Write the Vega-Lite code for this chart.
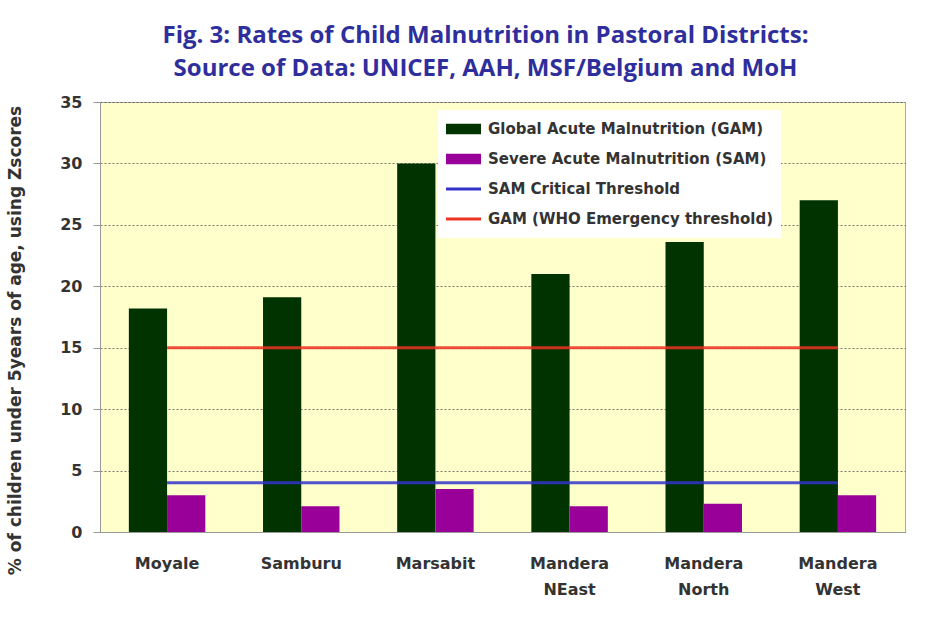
{
  "$schema": "https://vega.github.io/schema/vega-lite/v6.json",
  "width": 805,
  "height": 430,
  "autosize": {"type": "none"},
  "padding": {"left": 100, "top": 102, "right": 33, "bottom": 100},
  "background": "white",
  "title": {
    "text": ["Fig. 3: Rates of Child Malnutrition in Pastoral Districts:", "Source of Data: UNICEF, AAH, MSF/Belgium and MoH"],
    "font": "Open Sans",
    "fontSize": 24,
    "fontWeight": "bold",
    "color": "#2e2e9c",
    "anchor": "middle",
    "frame": "group",
    "dx": -17,
    "offset": 13,
    "lineHeight": 33
  },
  "data": {
    "values": [
      {"district": "Moyale", "series": "Global Acute Malnutrition (GAM)", "kind": "bar", "value": 18.2},
      {"district": "Moyale", "series": "Severe Acute Malnutrition (SAM)", "kind": "bar", "value": 3.0},
      {"district": "Samburu", "series": "Global Acute Malnutrition (GAM)", "kind": "bar", "value": 19.1},
      {"district": "Samburu", "series": "Severe Acute Malnutrition (SAM)", "kind": "bar", "value": 2.1},
      {"district": "Marsabit", "series": "Global Acute Malnutrition (GAM)", "kind": "bar", "value": 30.0},
      {"district": "Marsabit", "series": "Severe Acute Malnutrition (SAM)", "kind": "bar", "value": 3.5},
      {"district": "Mandera NEast", "series": "Global Acute Malnutrition (GAM)", "kind": "bar", "value": 21.0},
      {"district": "Mandera NEast", "series": "Severe Acute Malnutrition (SAM)", "kind": "bar", "value": 2.1},
      {"district": "Mandera North", "series": "Global Acute Malnutrition (GAM)", "kind": "bar", "value": 23.6},
      {"district": "Mandera North", "series": "Severe Acute Malnutrition (SAM)", "kind": "bar", "value": 2.3},
      {"district": "Mandera West", "series": "Global Acute Malnutrition (GAM)", "kind": "bar", "value": 27.0},
      {"district": "Mandera West", "series": "Severe Acute Malnutrition (SAM)", "kind": "bar", "value": 3.0},
      {"district": "Moyale", "series": "SAM Critical Threshold", "kind": "line", "value": 4},
      {"district": "Samburu", "series": "SAM Critical Threshold", "kind": "line", "value": 4},
      {"district": "Marsabit", "series": "SAM Critical Threshold", "kind": "line", "value": 4},
      {"district": "Mandera NEast", "series": "SAM Critical Threshold", "kind": "line", "value": 4},
      {"district": "Mandera North", "series": "SAM Critical Threshold", "kind": "line", "value": 4},
      {"district": "Mandera West", "series": "SAM Critical Threshold", "kind": "line", "value": 4},
      {"district": "Moyale", "series": "GAM (WHO Emergency threshold)", "kind": "line", "value": 15},
      {"district": "Samburu", "series": "GAM (WHO Emergency threshold)", "kind": "line", "value": 15},
      {"district": "Marsabit", "series": "GAM (WHO Emergency threshold)", "kind": "line", "value": 15},
      {"district": "Mandera NEast", "series": "GAM (WHO Emergency threshold)", "kind": "line", "value": 15},
      {"district": "Mandera North", "series": "GAM (WHO Emergency threshold)", "kind": "line", "value": 15},
      {"district": "Mandera West", "series": "GAM (WHO Emergency threshold)", "kind": "line", "value": 15}
    ]
  },
  "config": {
    "view": {"fill": "#ffffcc", "stroke": "#aaaaaa"}
  },
  "encoding": {
    "x": {
      "field": "district",
      "type": "nominal",
      "sort": ["Moyale", "Samburu", "Marsabit", "Mandera NEast", "Mandera North", "Mandera West"],
      "scale": {"paddingInner": 0.43, "paddingOuter": 0.215},
      "axis": {
        "title": null,
        "labelExpr": "split(datum.label, ' ')",
        "labelFont": "DejaVu Sans",
        "labelFontSize": 16,
        "labelFontWeight": "bold",
        "labelColor": "#333333",
        "labelPadding": 23,
        "labelLineHeight": 26,
        "labelAngle": 0,
        "labelBaseline": "top",
        "ticks": false,
        "domainColor": "#999999"
      }
    },
    "y": {
      "field": "value",
      "type": "quantitative",
      "scale": {"domain": [0, 35], "nice": false},
      "axis": {
        "values": [0, 5, 10, 15, 20, 25, 30, 35],
        "title": "% of children under 5years of age, using Zscores",
        "titleFont": "DejaVu Sans",
        "titleFontSize": 17,
        "titleFontWeight": "bold",
        "titleColor": "#333333",
        "titleX": -76,
        "titleY": 238,
        "labelFont": "DejaVu Sans",
        "labelFontSize": 16,
        "labelFontWeight": "bold",
        "labelColor": "#333333",
        "labelPadding": 11,
        "tickSize": 7,
        "tickColor": "#999999",
        "domainColor": "#999999",
        "grid": true,
        "gridColor": "#555555",
        "gridDash": [2, 2],
        "gridOpacity": 0.8
      }
    },
    "color": {
      "field": "series",
      "type": "nominal",
      "scale": {
        "domain": ["Global Acute Malnutrition (GAM)", "Severe Acute Malnutrition (SAM)", "SAM Critical Threshold", "GAM (WHO Emergency threshold)"],
        "range": ["#003300", "#990099", "#3333cc", "#ee3322"]
      },
      "legend": {
        "title": null,
        "orient": "none",
        "legendX": 338,
        "legendY": 8,
        "fillColor": "white",
        "padding": 8,
        "symbolSize": 1225,
        "clipHeight": 22,
        "rowPadding": 8,
        "labelFont": "DejaVu Sans",
        "labelFontSize": 15,
        "labelFontWeight": "bold",
        "labelColor": "#333333",
        "labelOffset": 7,
        "labelLimit": 400,
        "encoding": {
          "symbols": {
            "shape": {"value": {"expr": "indexof(datum.value, 'hreshold') >= 0 ? 'M-1,-0.08H1V0.08H-1Z' : 'M-1,-0.3H1V0.3H-1Z'"}},
            "fill": {"value": {"expr": "scale('color', datum.value)"}},
            "strokeWidth": {"value": 0},
            "opacity": {"value": 1},
            "fillOpacity": {"value": 1}
          }
        }
      }
    }
  },
  "layer": [
    {
      "transform": [{"filter": "datum.kind === 'bar'"}],
      "mark": {"type": "bar"},
      "encoding": {
        "xOffset": {
          "field": "series",
          "type": "nominal",
          "scale": {"domain": ["Global Acute Malnutrition (GAM)", "Severe Acute Malnutrition (SAM)"], "paddingInner": 0, "paddingOuter": 0}
        }
      }
    },
    {
      "transform": [{"filter": "datum.kind === 'line'"}],
      "mark": {"type": "line", "strokeWidth": 3, "strokeOpacity": 0.85},
      "encoding": {}
    }
  ]
}
